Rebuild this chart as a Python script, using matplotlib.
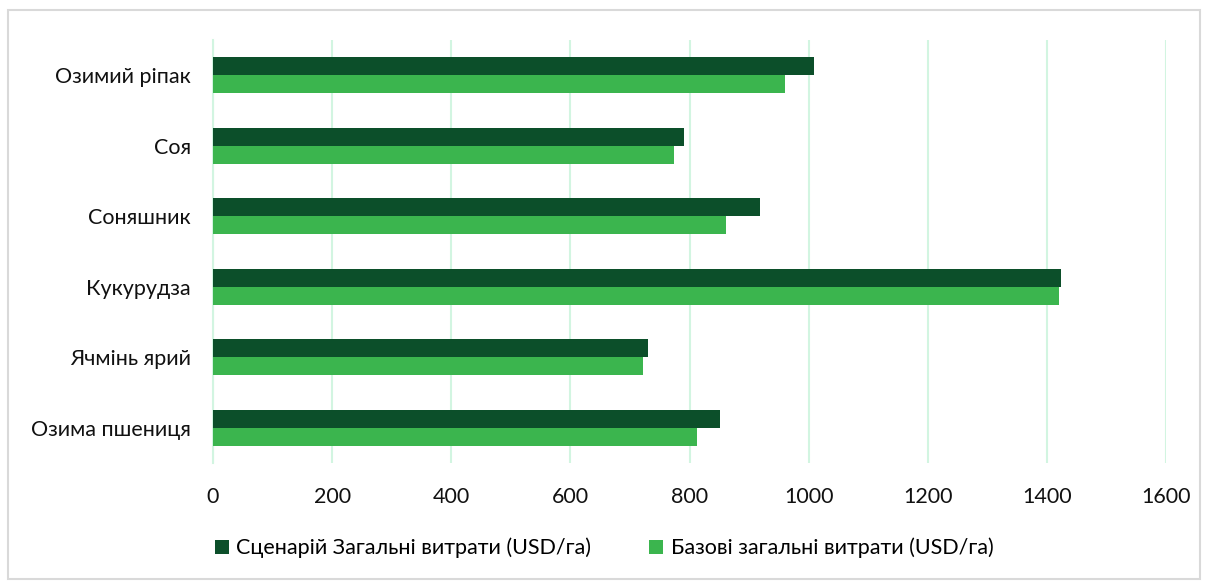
import matplotlib
matplotlib.use("Agg")
import matplotlib.pyplot as plt
from matplotlib.patches import Rectangle

categories = ["Озимий ріпак", "Соя", "Соняшник", "Кукурудза", "Ячмінь ярий", "Озима пшениця"]
scenario = [1009, 790, 918, 1423, 730, 851]
base = [961, 774, 861, 1420, 722, 813]
series_names = ["Сценарій Загальні витрати (USD/га)", "Базові загальні витрати (USD/га)"]
xticks = [0, 200, 400, 600, 800, 1000, 1200, 1400, 1600]

plt.rcParams['font.family'] = ['Lato', 'DejaVu Sans']

dark = "#0c4f2a"
light = "#3bb54e"
grid = "#d2f5e1"

fig = plt.figure(figsize=(12.08, 5.81), dpi=100)
ax = fig.add_axes([213/1208, 1-463/581, (1166-213)/1208, (463-40)/581])

n = len(categories)
ypos = list(range(n))
h = 0.255
ax.barh([y - h/2 for y in ypos], scenario, height=h, color=dark, label=series_names[0], zorder=3)
ax.barh([y + h/2 for y in ypos], base, height=h, color=light, label=series_names[1], zorder=3)

ax.set_ylim(n - 0.5, -0.5)
ax.set_xlim(0, 1600)
ax.set_yticks(ypos)
ax.set_yticklabels(categories, fontsize=15.5)
ax.set_xticks(xticks)
ax.set_xticklabels([str(t) for t in xticks], fontsize=15.5)
ax.tick_params(axis='both', length=0, colors="#111111")
ax.tick_params(axis='y', pad=16)
ax.tick_params(axis='x', pad=17)
ax.xaxis.grid(True, color=grid, linewidth=1.5, zorder=0)
for s in ["top", "right", "bottom"]:
    ax.spines[s].set_visible(False)
ax.spines["left"].set_color(grid)
ax.spines["left"].set_linewidth(1.5)

fig.legend(loc="center", bbox_to_anchor=(0.5, 1-548/581), ncol=2, frameon=False,
           fontsize=15.5, handlelength=0.65, handleheight=0.65, handletextpad=0.35,
           columnspacing=2.7)

fig.patches.append(Rectangle((8/1208, 2/581), 1-16/1208, 1-12/581, transform=fig.transFigure,
                             fill=False, edgecolor="#d9d9d9", linewidth=1.5))

fig.savefig("out.png", dpi=100)
